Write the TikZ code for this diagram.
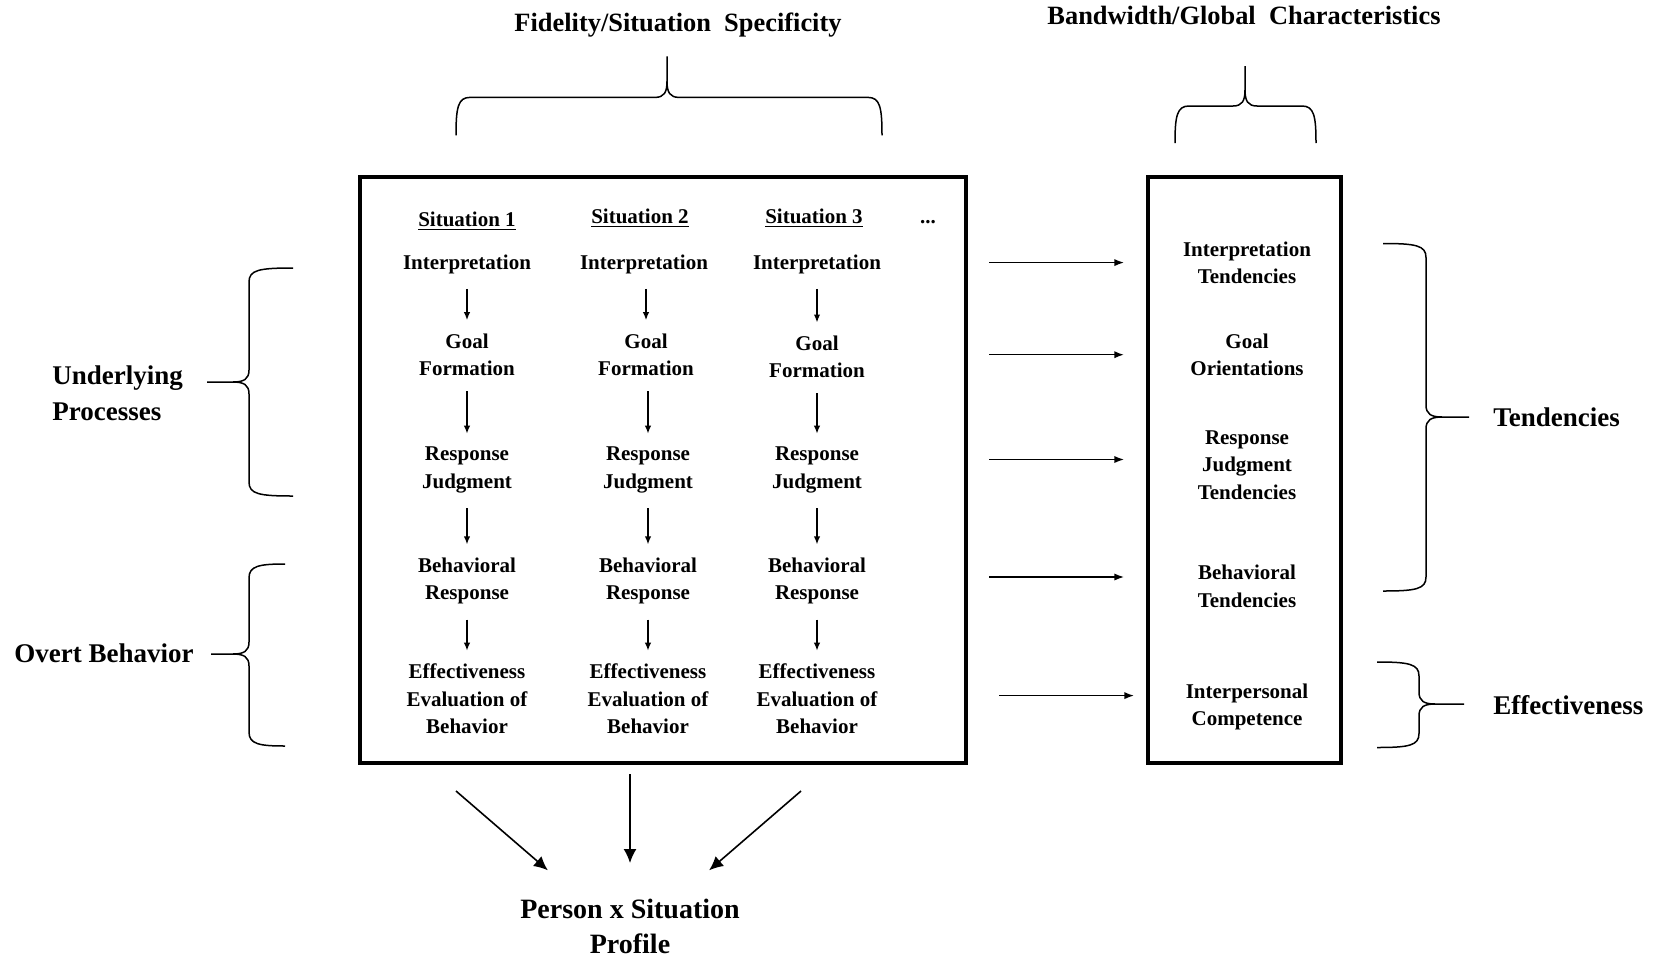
\documentclass[tikz,border=0pt]{standalone}
\usepackage{fontspec}
\setmainfont{Liberation Serif}
\usetikzlibrary{arrows.meta}
\tikzset{
  boxtxt/.style={font=\fontsize{10.5}{13.7}\selectfont\bfseries, align=center, inner sep=0pt},
  sidetxt/.style={font=\fontsize{13.5}{18}\selectfont\bfseries, inner sep=0pt},
  titletxt/.style={font=\fontsize{13.2}{16}\selectfont\bfseries, inner sep=0pt},
  proftxt/.style={font=\fontsize{14}{17.5}\selectfont\bfseries, align=center, inner sep=0pt},
  bigbox/.style={draw, line width=2pt, inner sep=0pt, outer sep=0pt},
  arr/.style={-{Latex[length=4pt,width=3.2pt]}, line width=0.7pt, shorten <=7.5pt, shorten >=6.5pt},
  harr/.style={-{Latex[length=4.8pt,width=3.6pt]}, line width=0.7pt},
  barr/.style={-{Latex[length=7pt,width=6.5pt]}, line width=0.8pt},
  bracestyle/.style={line width=0.75pt}
}
% vertical brace: #1 V x, #2 mid y, #3 sign, #4 arm length, #5 top offset, #6 bottom offset, #7 tip length
\newcommand\myvbrace[7]{%
  \begin{scope}[shift={(#1,#2)}, xscale=#3]
    \draw[bracestyle] (#4,-#5) .. controls (10,-#5) and (0,-#5+2) .. (0,-#5+14)
      -- (0,-12) .. controls (0,-3) and (-5,0) .. (-16,0) -- (-#7,0);
    \draw[bracestyle] (-16,0) .. controls (-5,0) and (0,3) .. (0,12)
      -- (0,#6-14) .. controls (0,#6-2) and (10,#6) .. (#4,#6);
  \end{scope}}
% horizontal brace: #1 mid x, #2 flat y, #3 arm length, #4 left offset, #5 right offset, #6 tip length
\newcommand\myhbrace[6]{%
  \begin{scope}[shift={(#1,#2)}]
    \draw[bracestyle] (-#4,#3) .. controls (-#4,10) and (-#4+2,0) .. (-#4+14,0)
      -- (-12,0) .. controls (-3,0) and (0,-5) .. (0,-16) -- (0,-#6);
    \draw[bracestyle] (0,-16) .. controls (0,-5) and (3,0) .. (12,0)
      -- (#5-14,0) .. controls (#5-2,0) and (#5,10) .. (#5,#3);
  \end{scope}}
\begin{document}
\begin{tikzpicture}[x=0.5pt, y=-0.5pt]
\useasboundingbox (0,0) rectangle (1660,959);

% titles
\node[titletxt] (fid) at (678,25) {Fidelity/Situation\ \ Specificity};
\node[titletxt] (bw) at (1244,15) {Bandwidth/Global\ \ Characteristics};
\myhbrace{667}{97.4}{38}{211}{215}{41}
\myhbrace{1245}{106}{37}{70}{71}{40}

% boxes
\node[bigbox, minimum width=302.75pt, minimum height=293pt] (mainbox) at (662.75,470) {};
\node[bigbox, minimum width=96.9pt, minimum height=293pt] (rbox) at (1244.5,470) {};

% column headings
\node[boxtxt] (s1) at (467,221) {\underline{Situation 1}};
\node[boxtxt] (s2) at (640,218) {\underline{Situation 2}};
\node[boxtxt] (s3) at (814,218) {\underline{Situation 3}};
\node[boxtxt] (dots) at (928,222) {...};

% column 1
\node[boxtxt] (i1) at (467,264) {Interpretation};
\node[boxtxt] (g1) at (467,354.7) {Goal\\Formation};
\node[boxtxt] (r1) at (467,470) {Response\\Judgment};
\node[boxtxt] (b1) at (467,581) {Behavioral\\Response};
\node[boxtxt] (e1) at (467,699) {Effectiveness\\Evaluation of\\Behavior};
% column 2
\node[boxtxt] (i2) at (644,264) {Interpretation};
\node[boxtxt] (g2) at (646,354.7) {Goal\\Formation};
\node[boxtxt] (r2) at (648,470) {Response\\Judgment};
\node[boxtxt] (b2) at (648,581) {Behavioral\\Response};
\node[boxtxt] (e2) at (648,699) {Effectiveness\\Evaluation of\\Behavior};
% column 3
\node[boxtxt] (i3) at (817,264) {Interpretation};
\node[boxtxt] (g3) at (817,357) {Goal\\Formation};
\node[boxtxt] (r3) at (817,470) {Response\\Judgment};
\node[boxtxt] (b3) at (817,581) {Behavioral\\Response};
\node[boxtxt] (e3) at (817,699) {Effectiveness\\Evaluation of\\Behavior};

\foreach \c in {1,3}{
  \draw[arr] (i\c.south) -- (g\c.north);
  \draw[arr] (g\c.south) -- (r\c.north);
  \draw[arr] (r\c.south) -- (b\c.north);
  \draw[arr] (b\c.south) -- (e\c.north);
}
\draw[arr] (g2.north |- i2.south) -- (g2.north);
\draw[arr] (r2.north |- g2.south) -- (r2.north);
\draw[arr] (r2.south) -- (b2.north);
\draw[arr] (b2.south) -- (e2.north);

% right box texts
\node[boxtxt] (t1) at (1247,263) {Interpretation\\Tendencies};
\node[boxtxt] (t2) at (1247,354.7) {Goal\\Orientations};
\node[boxtxt] (t3) at (1247,465) {Response\\Judgment\\Tendencies};
\node[boxtxt] (t4) at (1247,586.5) {Behavioral\\Tendencies};
\node[boxtxt] (t5) at (1247,707) {Interpersonal\\Competence};

% horizontal arrows
\coordinate (h1) at (1000,262.6);
\coordinate (h2) at (1000,354.7);
\coordinate (h3) at (1000,459.5);
\coordinate (h4) at (1000,577);
\coordinate (h5) at (1000,695.6);
\foreach \h in {1,2,3,4}{
  \draw[harr, shorten <=11.75pt, shorten >=11.8pt] (mainbox.east |- h\h) -- (rbox.west |- h\h);
}
\draw[harr, shorten <=16.75pt, shorten >=6.8pt] (mainbox.east |- h5) -- (rbox.west |- h5);

% side labels and braces
\node[sidetxt, anchor=west, align=left] (up) at (52,393) {Underlying\\Processes};
\node[sidetxt, anchor=west] (ob) at (14,653) {Overt Behavior};
\node[sidetxt, anchor=west] (tend) at (1493,417) {Tendencies};
\node[sidetxt, anchor=west] (eff) at (1493,705) {Effectiveness};
\myvbrace{249}{382}{1}{44}{114}{114}{42}
\myvbrace{249}{654}{1}{36}{90}{92}{38}
\myvbrace{1426}{417}{-1}{43}{173.5}{174}{43}
\myvbrace{1419}{704}{-1}{42}{42}{43.5}{45}

% profile
\node[proftxt] (profile) at (630,926.5) {Person x Situation\\Profile};
\coordinate (d1) at (456,791);
\coordinate (d2) at (630,774);
\coordinate (d3) at (801,791);
\draw[barr, shorten >=43pt] (d1) -- ([xshift=-8.5pt]profile.center);
\draw[barr, shorten >=31.75pt] (d2) -- (profile.center);
\draw[barr, shorten >=43pt] (d3) -- ([xshift=7pt]profile.center);
\end{tikzpicture}
\end{document}
